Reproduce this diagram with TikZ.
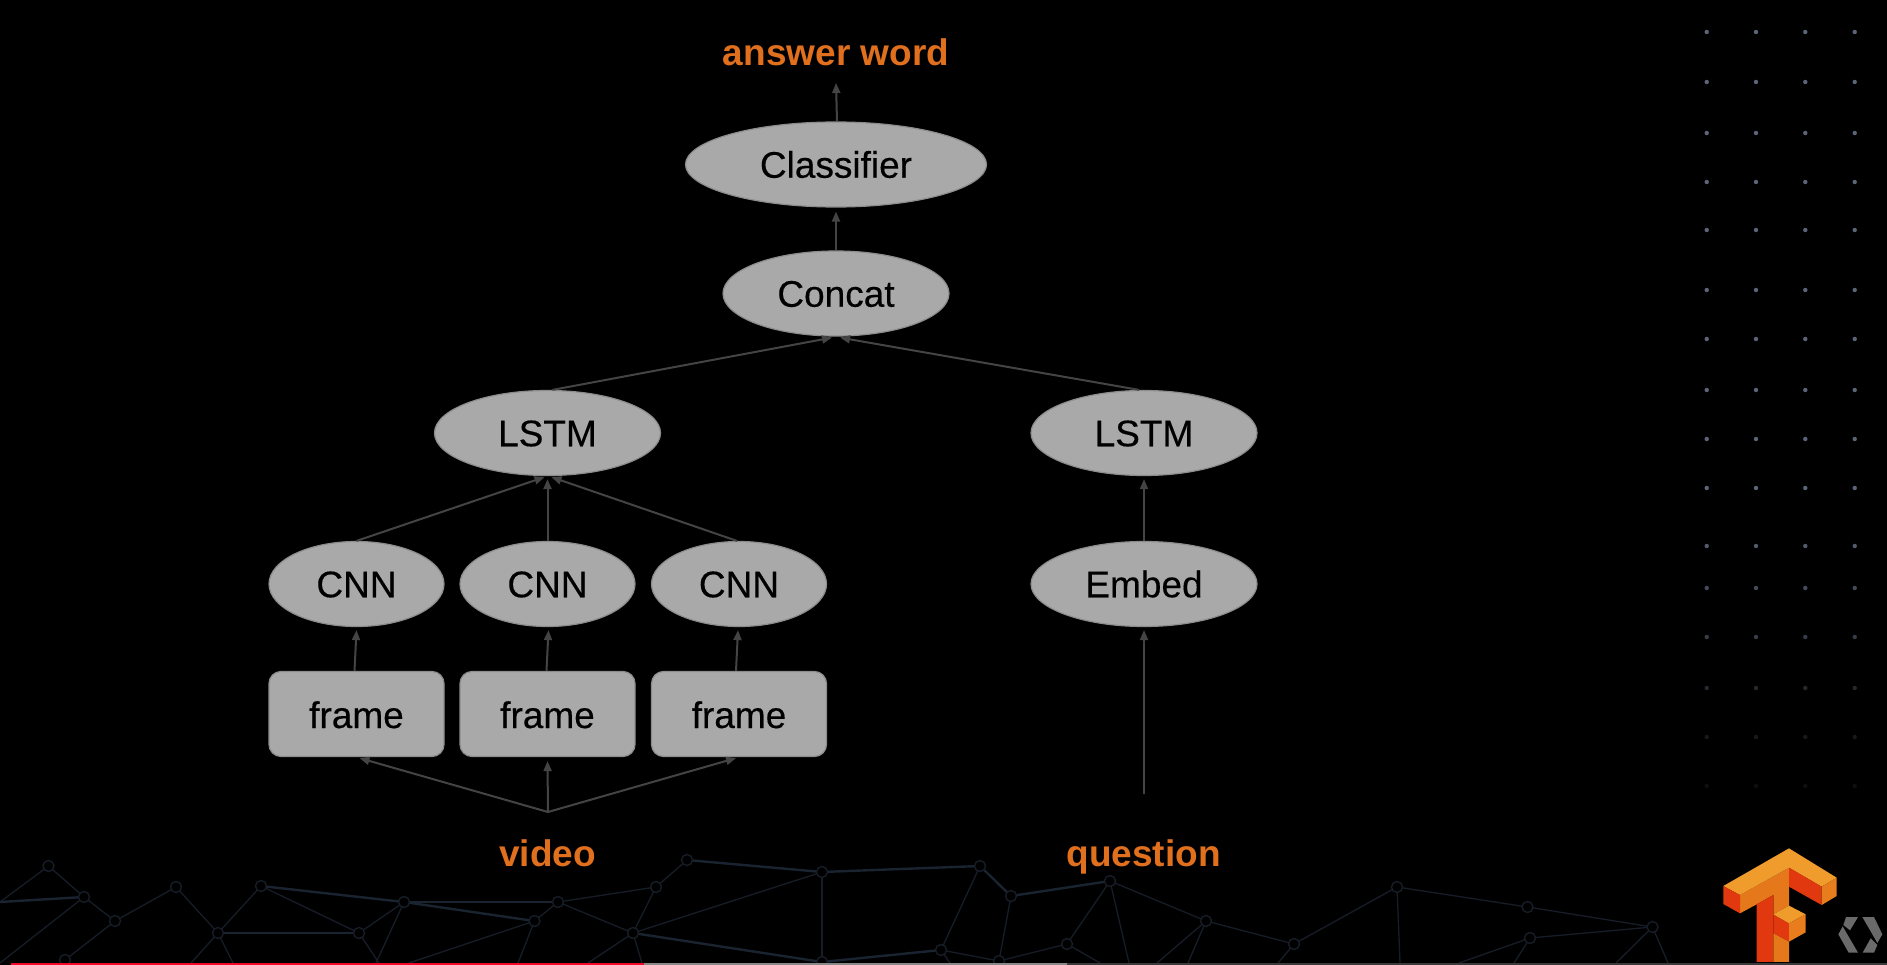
\documentclass[tikz,border=0pt]{standalone}
\usepackage{fontspec}
\setmainfont{Liberation Sans}
\newfontfamily\nodefont[FakeBold=0.35]{Liberation Sans}
\usetikzlibrary{shapes.geometric,arrows.meta}
\definecolor{nodegray}{HTML}{A9A9A9}
\definecolor{nodeedge}{HTML}{8C8C8C}
\definecolor{linegray}{HTML}{444444}
\definecolor{labelorange}{HTML}{E0701E}
\definecolor{meshcol}{HTML}{171D27}
\definecolor{meshbold}{HTML}{1A2330}
\definecolor{lightO}{HTML}{F09C2C}
\definecolor{midO}{HTML}{E5781A}
\definecolor{redO}{HTML}{E2380F}
\definecolor{dotcol}{HTML}{5C6478}
\definecolor{barred}{HTML}{F00A28}
\definecolor{bargray}{HTML}{888888}
\definecolor{bardark}{HTML}{3A3A3A}
\definecolor{markgray}{HTML}{6A6A6A}
\tikzset{
  x=1pt,y=-1pt,
  base/.style={fill=nodegray,draw=nodeedge,line width=1.2pt,inner sep=0pt,text=black,
    font=\nodefont\fontsize{37}{44}\selectfont,text height=26.5pt,text depth=0pt},
  ell/.style={base,ellipse,minimum height=85pt},
  ellS/.style={ell,minimum width=175pt},
  ellM/.style={ell,minimum width=226pt},
  ellL/.style={ell,minimum width=301pt},
  framebox/.style={base,rectangle,rounded corners=12pt,minimum width=175pt,minimum height=85pt,text height=28pt},
  lab/.style={anchor=base,text=labelorange,font=\fontsize{37}{44}\selectfont\bfseries},
  conn/.style={draw=linegray,line width=2pt,-{Triangle[length=10pt,width=8pt,fill=linegray]}},
  meshL/.style={draw=meshcol,line width=1.3pt},
  meshT/.style={draw=meshbold,line width=2.4pt},
  meshN/.style={circle,draw=meshcol,line width=1.4pt,fill=black,minimum size=11pt,inner sep=0pt}
}
\begin{document}
\begin{tikzpicture}
\useasboundingbox (0,0) rectangle (1887,965);
\fill[black] (0,0) rectangle (1887,965);

% dot grid
\foreach \yy/\op in {32/1,82/1,133/1,182/1,230/1,290/1,339/1,390/1,439/1,488/1,546/.9,588/.75,637/.6,688/.4,737/.25,786/.15}{
  \foreach \xx in {1706.7,1756,1805.3,1854.7}{
    \fill[dotcol,opacity=\op] (\xx,\yy) circle (2.2pt);
  }
}

% mesh points
\foreach \n/\xx/\yy in {A/48.5/866,B/84/897,C/115/921,D/176/887,E/261/886,F/218/933,G/359/933,H/404/902,I/558/902,J/534.5/921,K/656/887,L/687/860,M/633/933,N/822/872,O/941/950,P/822/962,Q/65/960,R/980/866,S/1011/896,T/1110/881,U/1206/921,V/1294/944,W/1397/887,X/1527.5/907,Y/1652.5/927,Z/1530/938,AA/1067/944,AB/999/961,
  la/0/902,lb/0/963,ba/191/963,bb/233/963,bc/379/963,bd/376/963,be/409/963,bf/518/963,bg/588/963,bh/642/963,bi/1129/963,bj/1157/963,bk/1188/963,bl/1100/963,bm/1400/963,bn/1278/963,bo/1459/963,bp/1514/963,bq/1616/963,br/1668/963,bs/950/963}{
  \coordinate (\n) at (\xx,\yy);
}
\foreach \a/\b in {A/la,A/B,B/C,C/D,D/F,F/E,E/G,H/G,G/bc,F/ba,F/bb,B/lb,C/Q,H/bd,J/I,J/be,J/bf,I/K,K/L,K/M,I/M,M/bg,M/bh,M/N,N/P,R/O,S/AB,T/U,T/AA,T/bi,U/bj,U/bk,U/V,AA/AB,AA/bl,O/AB,V/W,W/X,X/Y,W/bm,V/bn,Z/bo,Z/bp,Y/bq,Y/br,Z/Y,O/bs}{
  \draw[meshL] (\a) -- (\b);
}
\foreach \a/\b in {la/B,E/H,F/G,H/J,H/I,L/N,M/P,N/R,P/O,S/T,R/S}{
  \draw[meshT] (\a) -- (\b);
}
\foreach \n in {A,B,C,D,E,F,G,H,I,J,K,L,M,N,O,P,Q,R,S,T,U,V,W,X,Y,Z,AA,AB}{
  \node[meshN] at (\n) {};
}

% bottom progress bar
\fill[barred] (11,963) rectangle (644,965);
\fill[bargray] (644,963) rectangle (1067,965);
\fill[bardark] (1067,963) rectangle (1887,965);

% logo
\begin{scope}[shift={(1700,835)},x=0.3333pt,y=-0.3333pt]
  \fill[midO] (120,180) -- (267,98) -- (267,212) -- (220,238) -- (220,180) -- (170,208) -- (120,235) -- cycle;
  \fill[lightO] (267,40) -- (410,128) -- (365,155) -- (267,98) -- (120,180) -- (70,153) -- cycle;
  \fill[redO] (70,153) -- (120,180) -- (120,235) -- (70,207) -- cycle;
  \fill[redO] (170,208) -- (220,180) -- (220,381) -- (170,381) -- cycle;
  \fill[redO] (267,98) -- (365,155) -- (365,210) -- (267,155) -- cycle;
  \fill[midO!85!lightO] (365,155) -- (410,128) -- (410,183) -- (365,210) -- cycle;
  \fill[redO] (220,238) -- (267,265) -- (267,320) -- (220,295) -- cycle;
  \fill[lightO] (220,238) -- (267,212) -- (317,238) -- (267,265) -- cycle;
  \fill[midO!85!lightO] (267,265) -- (317,238) -- (317,292) -- (267,320) -- cycle;
  \fill[midO] (220,295) -- (267,320) -- (267,381) -- (220,381) -- cycle;
\end{scope}

% corner mark
\begin{scope}[shift={(1830,905)},x=0.3333pt,y=-0.3333pt]
  \fill[markgray] (48,36) -- (84,36) -- (60,76) -- (40,60) -- cycle;
  \fill[markgray] (25,88) -- (38,64) -- (84,143) -- (56,143) -- cycle;
  \fill[markgray] (97,36) -- (132,36) -- (157,88) -- (142,114) -- cycle;
  \fill[markgray] (98,143) -- (122,100) -- (142,120) -- (132,143) -- cycle;
\end{scope}

% diagram nodes
\node[ellL] (classifier) at (836,164.5) {Classifier};
\node[ellM] (concat) at (836,293.5) {Concat};
\node[ellM] (lstmL) at (547.5,433) {LSTM};
\node[ellM] (lstmR) at (1144,433) {LSTM};
\node[ellS] (cnnA) at (356.5,584) {CNN};
\node[ellS] (cnnB) at (547.5,584) {CNN};
\node[ellS] (cnnC) at (739,584) {CNN};
\node[ellM] (embed) at (1144,584) {Embed};
\node[framebox] (frA) at (356.5,714) {frame};
\node[framebox] (frB) at (547.5,714) {frame};
\node[framebox] (frC) at (739,714) {frame};
\node[lab] (answer) at (836,66) {answer word};
\node[lab] (video) at (547.5,866) {video};
\node[lab] (question) at (1143.5,866) {question};

% free ends
\coordinate (answerTip) at (836,83);
\coordinate (vsrc) at (548,812);
\coordinate (qsrc) at (1144,794);

% connectors
\draw[conn] ([xshift=1pt]classifier.north) -- (answerTip);
\draw[conn] (concat.north) -- ([yshift=-4pt]classifier.south);
\draw[conn] ([xshift=5pt]lstmL.north) -- ([xshift=-4pt,yshift=-1pt]concat.south);
\draw[conn] ([xshift=-5pt]lstmR.north) -- ([xshift=4pt,yshift=-1pt]concat.south);
\draw[conn] (cnnA.north) -- ([xshift=-3pt,yshift=-1pt]lstmL.south);
\draw[conn] (cnnB.north) -- ([yshift=-3pt]lstmL.south);
\draw[conn] ([xshift=-2pt]cnnC.north) -- ([xshift=4pt,yshift=-1pt]lstmL.south);
\draw[conn] (embed.north) -- ([yshift=-3pt]lstmR.south);
\draw[conn] ([xshift=-2pt]frA.north) -- ([yshift=-3pt]cnnA.south);
\draw[conn] ([xshift=-1pt]frB.north) -- ([xshift=1pt,yshift=-3pt]cnnB.south);
\draw[conn] ([xshift=-3pt]frC.north) -- ([xshift=-1pt,yshift=-3pt]cnnC.south);
\draw[conn] (vsrc) -- ([xshift=3pt,yshift=-1pt]frA.south);
\draw[conn] (vsrc) -- ([yshift=-4pt]frB.south);
\draw[conn] (vsrc) -- ([xshift=-3pt,yshift=-1pt]frC.south);
\draw[conn] (qsrc) -- ([yshift=-3pt]embed.south);
\end{tikzpicture}
\end{document}
